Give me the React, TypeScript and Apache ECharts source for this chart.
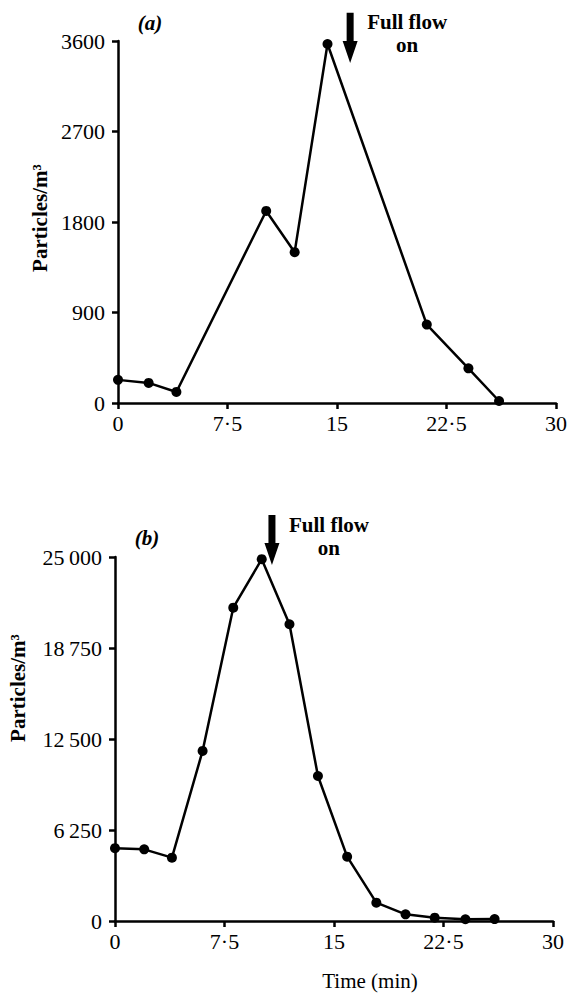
import React, { useEffect, useRef } from "react";
import * as echarts from "echarts";

const timesA = [0, 2.1, 4.0, 10.15, 12.1, 14.35, 21.15, 24.0, 26.1];
const particlesA = [230, 200, 110, 1910, 1500, 3570, 780, 345, 20];
const timesB = [0, 2.0, 3.9, 6.0, 8.1, 10.05, 11.95, 13.9, 15.9, 17.9, 19.9, 21.9, 24.0, 26.0];
const particlesB = [5000, 4920, 4350, 11680, 21520, 24850, 20380, 9960, 4420, 1260, 460, 230, 120, 130];

const xTicks = [0, 7.5, 15, 22.5, 30];
const yTicksA = [0, 900, 1800, 2700, 3600];
const yTicksB = [0, 6250, 12500, 18750, 25000];

// arrow annotations: x position (min) and y span (data units)
const arrowA = { x: 15.9, top: 3880, tip: 3380 };
const arrowB = { x: 10.75, top: 27880, tip: 24450 };

const FONT = "'Liberation Serif', 'DejaVu Serif', serif";

function fmtX(v: number) {
  return String(v).replace(".", "\u00b7");
}
function fmtA(v: number) {
  return String(v);
}
function fmtB(v: number) {
  if (v < 1000) return String(v);
  const s = String(v);
  return s.slice(0, s.length - 3) + "\u2009" + s.slice(s.length - 3);
}

export default function App() {
  const ref = useRef<HTMLDivElement>(null);
  useEffect(() => {
    document.body.style.margin = "0";
    const chart = echarts.init(ref.current!, null, { renderer: "svg" });
    const axisLine = { lineStyle: { color: "#000", width: 2.5 } };
    const axisTick = { inside: false, length: 6, lineStyle: { color: "#000", width: 2.5 } };
    const labelStyle = { color: "#000", fontFamily: FONT, fontSize: 22 };
    const xAxisBase = (gi: number) => ({
      type: "value",
      gridIndex: gi,
      min: xTicks[0],
      max: xTicks[xTicks.length - 1],
      interval: xTicks[1] - xTicks[0],
      axisLine,
      axisTick,
      splitLine: { show: false },
      axisLabel: { ...labelStyle, margin: 9, formatter: fmtX },
    });
    const lineSeries = (gi: number, xs: number[], ys: number[]) => ({
      type: "line",
      xAxisIndex: gi,
      yAxisIndex: gi,
      data: xs.map((x, i) => [x, ys[i]]),
      symbol: "circle",
      symbolSize: 10,
      lineStyle: { color: "#000", width: 2.5 },
      itemStyle: { color: "#000" },
      clip: false,
    });
    chart.setOption({
      animation: false,
      backgroundColor: "#fff",
      grid: [
        { left: 118, right: 12, top: 41, height: 362 },
        { left: 115, right: 17, top: 557, height: 364 },
      ],
      xAxis: [xAxisBase(0), xAxisBase(1)],
      yAxis: [
        {
          type: "value",
          gridIndex: 0,
          min: yTicksA[0],
          max: yTicksA[yTicksA.length - 1],
          interval: yTicksA[1] - yTicksA[0],
          axisLine: { show: true, ...axisLine },
          axisTick: { show: true, ...axisTick },
          splitLine: { show: false },
          axisLabel: { ...labelStyle, margin: 13, formatter: fmtA },
        },
        {
          type: "value",
          gridIndex: 1,
          min: yTicksB[0],
          max: yTicksB[yTicksB.length - 1],
          interval: yTicksB[1] - yTicksB[0],
          axisLine: { show: true, ...axisLine },
          axisTick: { show: true, ...axisTick },
          splitLine: { show: false },
          axisLabel: { ...labelStyle, margin: 13, formatter: fmtB },
        },
      ],
      series: [lineSeries(0, timesA, particlesA), lineSeries(1, timesB, particlesB)],
    });

    const arrowGraphic = (gi: number, a: { x: number; top: number; tip: number }) => {
      const pTop = chart.convertToPixel({ gridIndex: gi }, [a.x, a.top]) as number[];
      const pTip = chart.convertToPixel({ gridIndex: gi }, [a.x, a.tip]) as number[];
      const x = pTop[0];
      const t = pTop[1];
      const b = pTip[1];
      const hh = 22;
      return [
        {
          type: "polygon",
          shape: {
            points: [
              [x - 3.5, t],
              [x + 3.5, t],
              [x + 3.5, b - hh],
              [x + 7.5, b - hh],
              [x, b],
              [x - 7.5, b - hh],
              [x - 3.5, b - hh],
            ],
          },
          style: { fill: "#000" },
        },
        {
          type: "text",
          x: x + 57,
          y: t - 2,
          style: {
            text: "Full flow\non",
            fill: "#000",
            font: `bold 21px ${FONT}`,
            lineHeight: 23,
            align: "center",
            verticalAlign: "top",
          },
        },
      ];
    };

    const gA = chart.convertToPixel({ gridIndex: 0 }, [0, yTicksA[yTicksA.length - 1]]) as number[];
    const gB = chart.convertToPixel({ gridIndex: 1 }, [0, yTicksB[yTicksB.length - 1]]) as number[];

    chart.setOption({
      graphic: [
        ...arrowGraphic(0, arrowA),
        ...arrowGraphic(1, arrowB),
        {
          type: "text",
          x: gA[0] + 32,
          y: gA[1] - 18,
          style: { text: "(a)", fill: "#000", font: `italic bold 21px ${FONT}`, align: "center", verticalAlign: "middle" },
        },
        {
          type: "text",
          x: gB[0] + 32,
          y: gB[1] - 19,
          style: { text: "(b)", fill: "#000", font: `italic bold 21px ${FONT}`, align: "center", verticalAlign: "middle" },
        },
        {
          type: "text",
          x: 40,
          y: 218,
          rotation: Math.PI / 2,
          style: { text: "Particles/m\u00b3", fill: "#000", font: `bold 21px ${FONT}`, align: "center", verticalAlign: "middle" },
        },
        {
          type: "text",
          x: 18,
          y: 688,
          rotation: Math.PI / 2,
          style: { text: "Particles/m\u00b3", fill: "#000", font: `bold 21px ${FONT}`, align: "center", verticalAlign: "middle" },
        },
        {
          type: "text",
          x: 370,
          y: 981,
          style: { text: "Time (min)", fill: "#000", font: `21px ${FONT}`, align: "center", verticalAlign: "middle" },
        },
      ],
    });
    return () => chart.dispose();
  }, []);
  return <div ref={ref} style={{ position: "absolute", left: 0, top: 0, width: 570, height: 993 }} />;
}
